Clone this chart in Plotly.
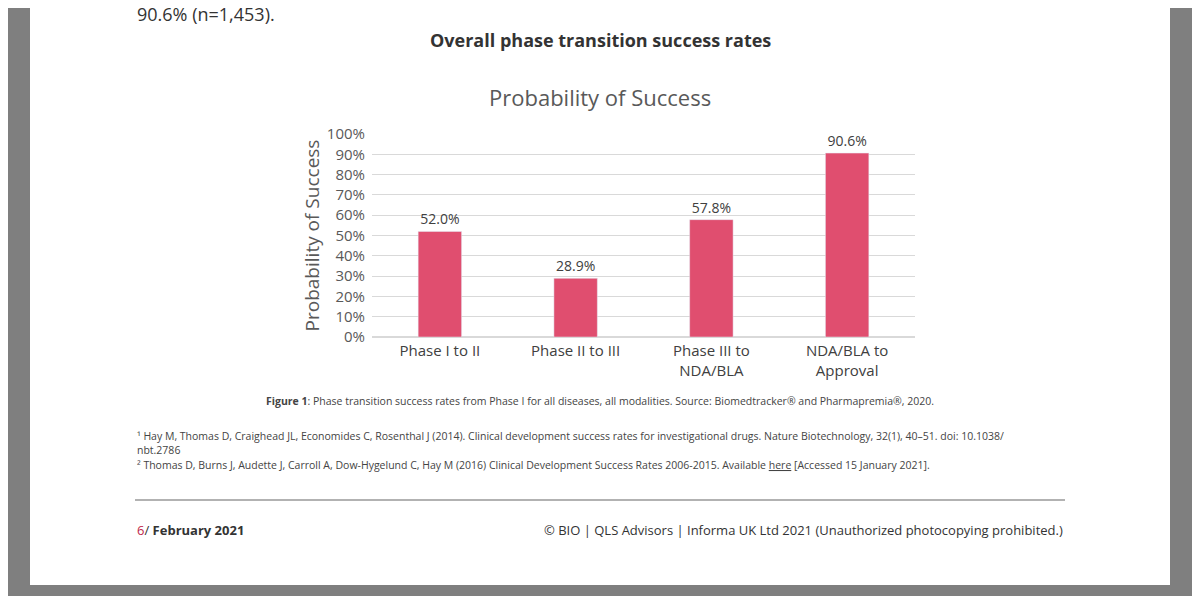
import plotly.graph_objects as go

categories = ["Phase I to II", "Phase II to III", "Phase III to<br>NDA/BLA", "NDA/BLA to<br>Approval"]
values = [52.0, 28.9, 57.8, 90.6]
y_ticks = list(range(0, 101, 10))

OFF = 8  # page body margin in the browser
W, H = 1200 - OFF, 596 - OFF
L, R, T, B = 372 - OFF, 915 - OFF, 134 - OFF, 337 - OFF  # plot area in pixels


def px(x):
    return (x - OFF - L) / (R - L)


def py(y):
    return (B - (y - OFF)) / (B - T)


fig = go.Figure(go.Bar(
    x=categories, y=values, width=0.32, marker_color="#e04e6f",
    text=[f"{v:.1f}%" for v in values], textposition="outside",
    textfont=dict(size=14, color="#404040"), cliponaxis=False,
))

FONT = "Open Sans"
ann = []


def text(x, y, s, size=11, color="#444", anchor="center", bold=False):
    if bold:
        s = f"<b>{s}</b>"
    ann.append(dict(x=px(x), y=py(y), xref="paper", yref="paper", text=s, showarrow=False,
                    xanchor=anchor, yanchor="middle", font=dict(family=FONT, size=size, color=color)))


text(135, 14, "90.6% (n=1,453).", 18, "#333", "left")
text(600, 40, "Overall phase transition success rates", 18, "#333", bold=True)
text(600, 97, "Probability of Success", 22, "#595959")
text(600, 401, "<b>Figure 1</b>: Phase transition success rates from Phase I for all diseases, all modalities. "
     "Source: Biomedtracker® and Pharmapremia®, 2020.", 10.5, "#444")
text(135, 436, "¹ Hay M, Thomas D, Craighead JL, Economides C, Rosenthal J (2014). Clinical development success rates "
     "for investigational drugs. Nature Biotechnology, 32(1), 40–51. doi: 10.1038/", 10.5, "#444", "left")
text(135, 450, "nbt.2786", 10.5, "#444", "left")
text(135, 465, "² Thomas D, Burns J, Audette J, Carroll A, Dow-Hygelund C, Hay M (2016) Clinical Development Success "
     "Rates 2006-2015. Available <u>here</u> [Accessed 15 January 2021].", 10.5, "#444", "left")
text(135, 530, "<span style='color:#c0274a'>6</span>/ <b>February 2021</b>", 13, "#333", "left")
text(1065, 530, "© BIO | QLS Advisors | Informa UK Ltd 2021 (Unauthorized photocopying prohibited.)", 13, "#333", "right")

shapes = [
    dict(type="rect", xref="paper", yref="paper", x0=px(30), x1=px(1170), y0=py(585), y1=py(-5),
         fillcolor="white", line_width=0, layer="below"),
    dict(type="line", xref="paper", yref="paper", x0=px(135), x1=px(1065), y0=py(500), y1=py(500),
         line=dict(color="#999", width=1.5)),
]

fig.update_layout(
    width=W, height=H, margin=dict(l=L, r=W - R, t=T, b=H - B),
    paper_bgcolor="#7f7f7f", plot_bgcolor="white",
    font=dict(family=FONT, color="#595959"),
    annotations=ann, shapes=shapes, showlegend=False, bargap=0.68,
)
fig.update_yaxes(range=[0, 100], tickvals=y_ticks, ticktext=[f"{t}%" for t in y_ticks],
                 gridcolor="#d9d9d9", zeroline=True, zerolinecolor="#d9d9d9",
                 tickfont=dict(size=15), ticks="", ticklabelstandoff=6,
                 title=dict(text="Probability of Success", font=dict(size=19), standoff=2))
fig.update_xaxes(tickfont=dict(size=15, color="#404040"), showline=True, linecolor="#d9d9d9")

fig.write_html("out.html")
